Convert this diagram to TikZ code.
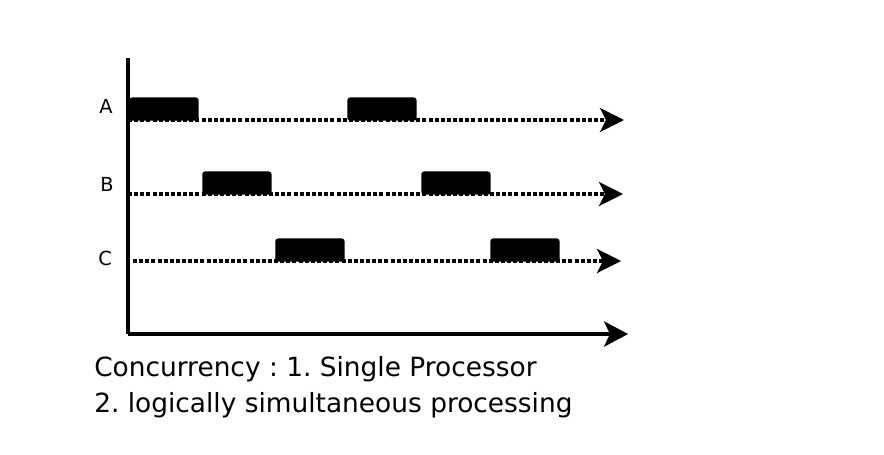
\documentclass[tikz,border=0pt]{standalone}
\usepackage{fontspec}
\setmainfont{DejaVu Sans}
\usetikzlibrary{arrows.meta}
\frenchspacing
\begin{document}
\begin{tikzpicture}[x=0.75pt,y=-0.75pt,
  axis/.style={line width=2.3pt,-{Stealth[length=18pt,width=19pt,inset=4.5pt]}},
  track/.style={line width=2.6pt,dash pattern=on 3pt off 1.6pt,-{Stealth[length=18pt,width=18pt,inset=4.5pt]}},
  job/.style={fill=black,draw=none,rounded corners=2.2pt,inner sep=0pt,minimum width=52pt,minimum height=17.5pt,anchor=south west},
  lbl/.style={font=\fontsize{14.5pt}{17pt}\selectfont,inner sep=0pt,anchor=base},
  captext/.style={font=\fontsize{19.8pt}{24pt}\selectfont,inner sep=0pt,anchor=base west}]
\useasboundingbox (0,0) rectangle (884,454);
% axes
\coordinate (o) at (128,334);
\coordinate (ytop) at (128,58);
\coordinate (xend) at (628,334);
\draw[line width=2.3pt] (ytop) -- (o);
\draw[axis] (o) -- (xend);
% tracks
\coordinate (a0) at (128,120); \coordinate (a1) at (624,120);
\coordinate (b0) at (128,194); \coordinate (b1) at (623,194);
\coordinate (c0) at (133,261); \coordinate (c1) at (621,261);
\draw[track] (a0) -- (a1);
\draw[track] (b0) -- (b1);
\draw[track] (c0) -- (c1);
% jobs
\node[job] (ja1) at (129,121) {};
\node[job] (ja2) at (347,121) {};
\node[job] (jb1) at (202,195) {};
\node[job] (jb2) at (421,195) {};
\node[job] (jc1) at (275,262) {};
\node[job] (jc2) at (490,262) {};
% labels
\node[lbl] (la) at (106,113) {A};
\node[lbl] (lb) at (107,191) {B};
\node[lbl] (lc) at (105,265) {C};
% caption
\node[captext] (t1) at (94,376) {Concurrency : 1. Single Processor};
\node[captext] (t2) at (94,412) {2. logically simultaneous processing};
\end{tikzpicture}
\end{document}
